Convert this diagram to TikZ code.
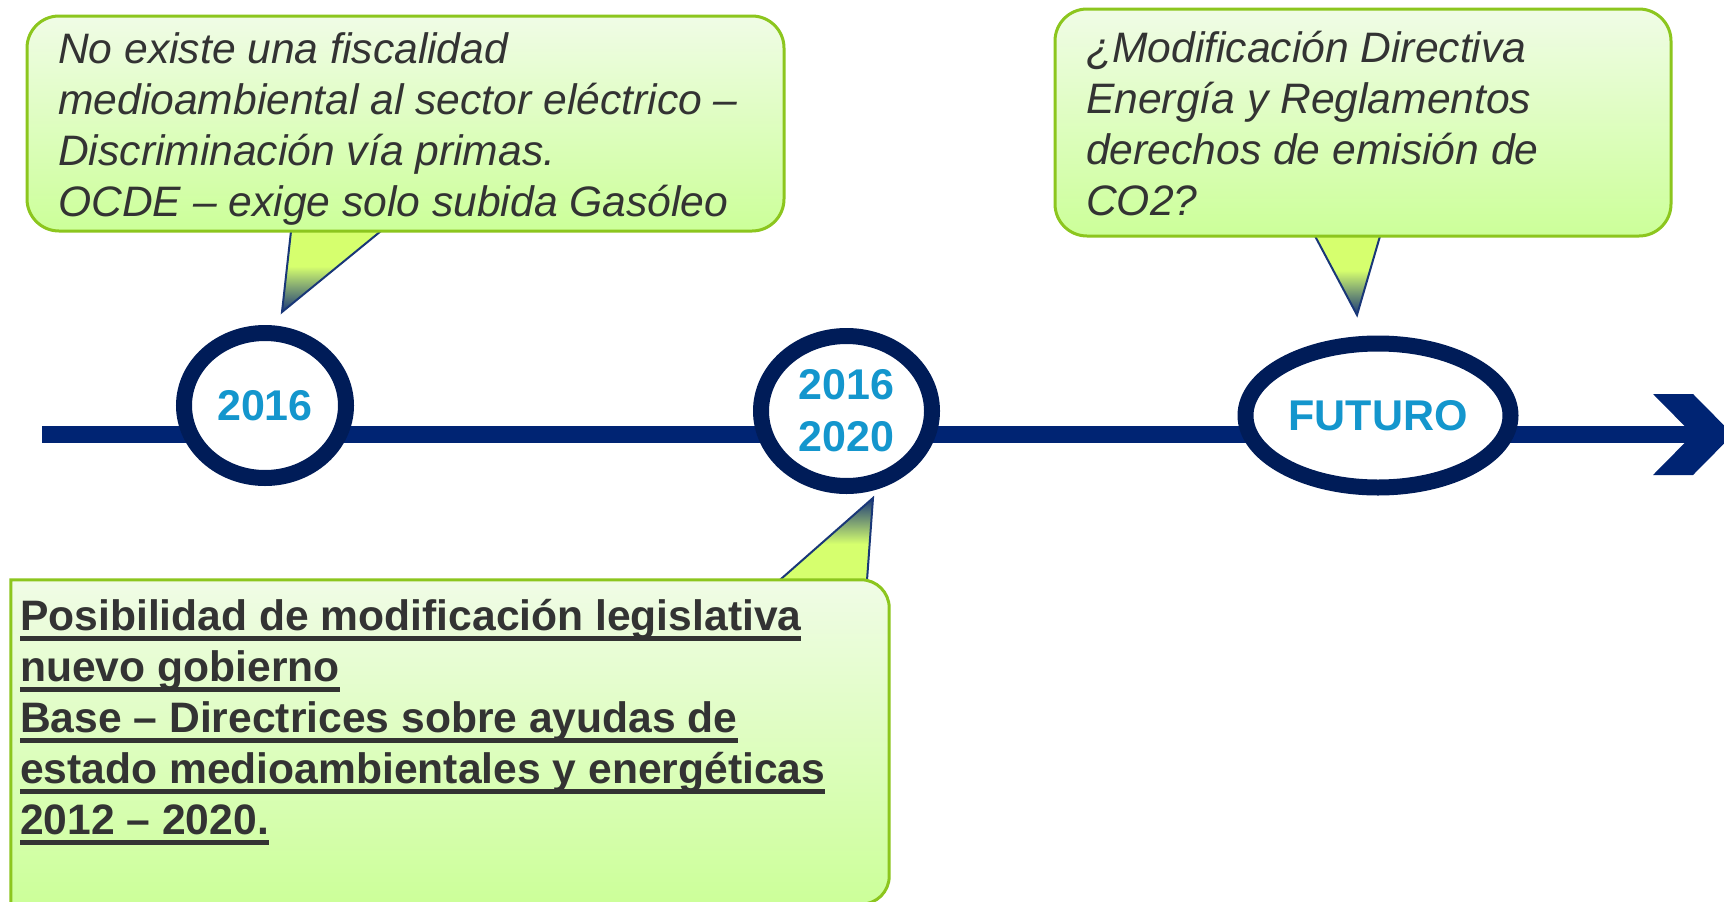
\documentclass[tikz,border=0pt]{standalone}
\usepackage{fontspec}
\setmainfont{Liberation Sans}
\usepackage{xcolor}
\usetikzlibrary{shapes.geometric}
\usetikzlibrary{backgrounds}
\definecolor{box-green}{RGB}{140, 198, 30}
\definecolor{box-top}{RGB}{240, 252, 230}
\definecolor{box-bottom}{RGB}{204, 255, 153}
\definecolor{pointer-green}{RGB}{214, 255, 110}
\definecolor{pointer-navy}{RGB}{25, 55, 120}
\definecolor{ring-navy}{RGB}{0, 28, 88}
\definecolor{line-navy}{RGB}{0, 36, 115}
\definecolor{year-blue}{RGB}{20, 150, 205}
\definecolor{text-gray}{RGB}{51, 51, 51}
\newcommand{\undertext}[1]{\setbox0=\hbox{#1}\rlap{\rule[-10.5pt]{\wd0}{4.5pt}}\box0}

\begin{document}
\begin{tikzpicture}[x=1pt, y=-1pt,
    noteshape/.style={draw=box-green, line width=3pt, top color=box-top, bottom color=box-bottom},
    notebox/.style={noteshape, rounded corners=32pt, inner sep=0pt},
    notetext/.style={anchor=north west, inner sep=0pt, align=left, text=text-gray, font=\fontsize{42.6}{51}\selectfont\itshape},
    notebold/.style={notetext, font=\fontsize{42.6}{51}\selectfont\bfseries},
    pointer/.style={draw=pointer-navy, line width=2pt, top color=pointer-green, bottom color=pointer-navy, middle color=pointer-green},
    pointerup/.style={pointer, top color=pointer-navy, bottom color=pointer-green, middle color=pointer-green},
    yearring/.style={ellipse, draw=ring-navy, line width=16pt, fill=white, inner sep=0pt, text=year-blue, align=center, font=\fontsize{43}{52}\selectfont\bfseries},
    timeline/.style={draw=line-navy, line width=17pt}]
\useasboundingbox (0,0) rectangle (1724,902);
\clip (0,0) rectangle (1724,902);
\begin{scope}[on background layer]
\fill[white] (0,0) rectangle (1724,902);
\end{scope}

\node[yearring, minimum width=162pt, minimum height=145pt] (y2016) at (265,405.5) {2016};
\node[yearring, minimum width=171pt, minimum height=150pt] (y2020) at (846.5,411) {2016\\2020};
\node[yearring, minimum width=265pt, minimum height=144pt] (futuro) at (1378,415.5) {FUTURO};

\coordinate (start) at (42,434.5);
\coordinate (notch) at (1693,434.5);
\fill[line-navy] (notch) -- ++(-40,-40.5) -- ++(40,0) -- ++(40,40.5) -- ++(-40,40.5) -- ++(-40,0) -- cycle;

\node[notebox, minimum width=757pt, minimum height=215pt] (boxA) at (405.5,123.5) {};
\node[notebox, minimum width=616pt, minimum height=227pt] (boxB) at (1363,122.5) {};
\node[inner sep=0pt, minimum width=878pt, minimum height=324pt] (boxC) at (450,742) {};
\path[noteshape] (boxC.south west) -- (boxC.north west) -- ([xshift=-28pt]boxC.north east)
    arc[start angle=-90, end angle=0, radius=28] -- ([yshift=28pt]boxC.south east)
    arc[start angle=0, end angle=90, radius=28] -- cycle;

\node[notetext] (textA) at (58,27.3) {\strut No existe una fiscalidad\\
    medioambiental al sector eléctrico –\\
    Discriminación vía primas.\\
    OCDE – exige solo subida Gasóleo};
\node[notetext] (textB) at (1086,26.3) {\strut ¿Modificación Directiva\\
    Energía y Reglamentos\\
    derechos de emisión de\\
    CO2?};
\node[notebold] (textC) at (20,594.3) {\strut\undertext{Posibilidad de modificación legislativa}\\
    \undertext{nuevo gobierno}\\
    \undertext{Base – Directrices sobre ayudas de}\\
    \undertext{estado medioambientales y energéticas}\\
    \undertext{2012 – 2020.}};

\begin{scope}[on background layer]
\draw[timeline] (start) -- (notch);
\coordinate (tipA) at (282,312);
\coordinate (tipB) at (1357,315);
\coordinate (tipC) at (873,498);
\path[pointer] ([shift={(-113.3,-12)}]boxA.south) -- (tipA) -- ([shift={(-11.7,-12)}]boxA.south);
\path[pointer] ([shift={(-53.6,-12)}]boxB.south) -- (tipB) -- ([shift={(20.1,-12)}]boxB.south);
\path[pointerup] ([shift={(318.7,10)}]boxC.north) -- (tipC) -- ([shift={(416.3,10)}]boxC.north);
\end{scope}
\end{tikzpicture}
\end{document}
